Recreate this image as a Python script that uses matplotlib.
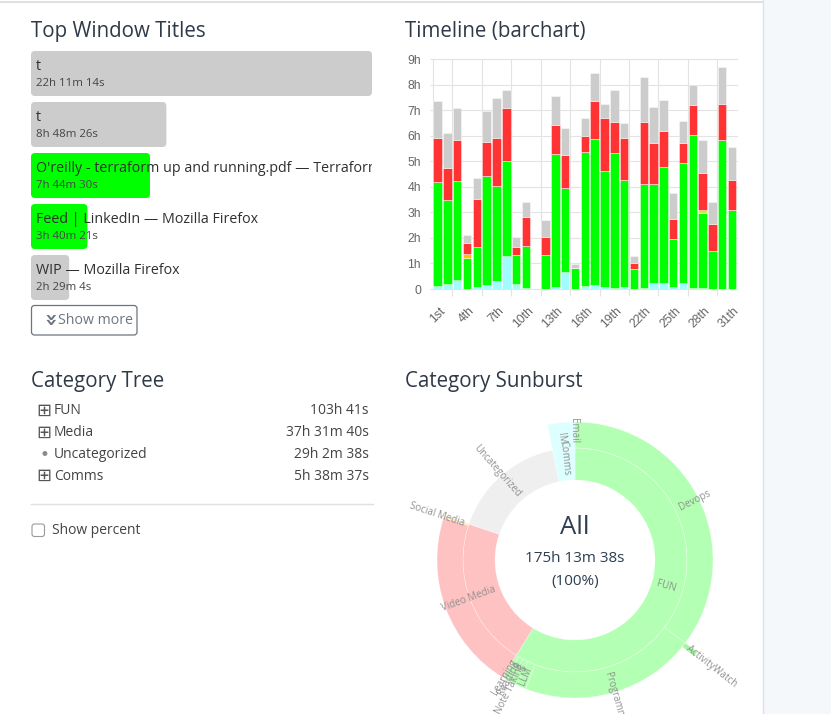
import matplotlib
matplotlib.use("Agg")
import matplotlib.pyplot as plt
import numpy as np
from matplotlib.patches import FancyBboxPatch, Rectangle
from matplotlib.transforms import ScaledTranslation

W, H, DPI = 831, 714, 100
plt.rcParams['font.family'] = ['Open Sans', 'DejaVu Sans']

# ---------------- data ----------------
window_titles = ["t", "t",
                 "O'reilly - terraform up and running.pdf — Terraform",
                 "Feed | LinkedIn — Mozilla Firefox",
                 "WIP — Mozilla Firefox"]
window_durations = ["22h 11m 14s", "8h 48m 26s", "7h 44m 30s", "3h 40m 21s", "2h 29m 4s"]
window_categories = ["Uncategorized", "Uncategorized", "FUN", "FUN", "Uncategorized"]

tree_names = ["FUN", "Media", "Uncategorized", "Comms"]
tree_durations = ["103h 41s", "37h 31m 40s", "29h 2m 38s", "5h 38m 37s"]
tree_has_children = [True, True, False, True]

day_labels = ["1st", "2nd", "3rd", "4th", "5th", "6th", "7th", "8th", "9th", "10th",
              "11th", "12th", "13th", "14th", "15th", "16th", "17th", "18th", "19th", "20th",
              "21th", "22th", "23th", "24th", "25th", "26th", "27th", "28th", "29th", "30th", "31th"]
# hours per day and category (stack order bottom -> top)
comms_h = [0.13, 0.20, 0.37, 0.00, 0.07, 0.17, 0.33, 1.28, 0.20, 0.05, 0.00, 0.00, 0.09, 0.68, 0.00, 0.12,
           0.16, 0.08, 0.03, 0.08, 0.00, 0.04, 0.24, 0.24, 0.09, 0.24, 0.03, 0.05, 0.00, 0.00, 0.00]
fun_h = [4.06, 3.30, 3.85, 1.22, 1.57, 4.26, 3.69, 3.74, 1.14, 1.63, 0.00, 1.35, 5.20, 3.28, 0.81, 5.25,
         5.70, 4.54, 5.30, 4.18, 0.79, 4.06, 3.86, 4.54, 1.85, 4.70, 6.00, 2.94, 1.48, 5.83, 3.08]
orange_h = [0, 0, 0, 0.16, 0, 0, 0, 0, 0, 0, 0, 0, 0, 0, 0, 0,
            0, 0, 0, 0, 0, 0, 0, 0, 0.03, 0, 0, 0, 0, 0, 0]
yellow_h = [0, 0, 0, 0, 0, 0, 0, 0, 0, 0, 0, 0, 0, 0, 0, 0,
            0, 0, 0, 0, 0, 0, 0, 0, 0, 0, 0, 0.11, 0, 0, 0]
media_h = [1.73, 1.22, 1.61, 0.43, 1.90, 1.33, 1.90, 2.05, 0.30, 1.14, 0.00, 0.68, 1.13, 1.28, 0.03, 0.62,
           1.50, 2.06, 1.19, 1.64, 0.22, 2.42, 1.60, 1.42, 0.78, 0.78, 1.18, 1.45, 1.07, 1.41, 1.20]
uncat_h = [1.42, 1.37, 1.24, 0.29, 0.81, 1.21, 1.57, 0.73, 0.39, 0.59, 0.00, 0.68, 1.14, 1.07, 0.12, 0.69,
           1.09, 0.56, 1.25, 0.59, 0.30, 1.77, 1.44, 1.19, 1.02, 0.86, 0.78, 1.28, 0.86, 1.46, 1.29]

# sunburst second / third level (hours)
sub_parents = ["FUN", "FUN", "FUN", "FUN", "FUN", "FUN", "Media", "Media", "Comms", "Comms"]
sub_names = ["Devops", "Programming", "LLM", "Note Taking", "Reading", "Learning",
             "Video Media", "Social Media", "IM", "Email"]
sub_hours = [61.80, 36.00, 1.95, 1.46, 1.12, 0.68, 37.13, 0.40, 4.91, 0.73]
sub3_parents = ["Programming"]
sub3_names = ["ActivityWatch"]
sub3_hours = [0.97]
center_label = "All"
center_total = "175h 13m 38s"
center_pct = "(100%)"


def to_hours(s):
    h = 0.0
    for part in s.split():
        v = float(part[:-1])
        h += {"h": v, "m": v / 60, "s": v / 3600}[part[-1]]
    return h


# ---------------- style ----------------
TITLE_C = "#2f3a48"
cat_bar_colors = {"FUN": "#00ff00", "Uncategorized": "#cccccc"}
sun_colors = {"FUN": "#b3ffb3", "Media": "#ffc2c2", "Uncategorized": "#efefef", "Comms": "#ddffff"}

fig = plt.figure(figsize=(W / DPI, H / DPI), dpi=DPI)
bg = fig.add_axes([0, 0, 1, 1])
bg.set_xlim(0, W)
bg.set_ylim(H, 0)
bg.axis("off")


def fax(x0, y0, x1, y1, **kw):
    return fig.add_axes([x0 / W, 1 - y1 / H, (x1 - x0) / W, (y1 - y0) / H], **kw)


# page chrome
bg.add_patch(Rectangle((763, 0), W - 763, H, color="#f5f8fb", zorder=0))
bg.plot([762.5, 762.5], [0, H], color="#dfe3e8", lw=1)
bg.plot([0, 762], [2, 2], color="#dddddd", lw=1.3)

for x, y, t in [(31, 37, "Top Window Titles"), (405, 37, "Timeline (barchart)"),
                (31, 387, "Category Tree"), (405, 387, "Category Sunburst")]:
    bg.text(x, y, t, fontsize=14.8, color=TITLE_C, va="baseline", ha="left")

# ---------------- Top window titles ----------------
wh = [to_hours(d) for d in window_durations]
wax = fax(31, 51, 372, 300)
bars = wax.barh(range(len(wh)), wh, height=0.882,
                color=[cat_bar_colors[c] for c in window_categories])
wax.set_xlim(0, wh[0])
wax.set_ylim(len(wh) - 1 + 0.441, -0.441)
wax.axis("off")
px_x = wh[0] / 341.0
px_y = 1 / 51.0
for r in bars:
    x, y, w, h = r.get_x(), r.get_y(), r.get_width(), r.get_height()
    fb = FancyBboxPatch((x, y), w, h, boxstyle=f"round,pad=0,rounding_size={4 * px_x}",
                        mutation_aspect=px_y / px_x, fc=r.get_facecolor(), ec="none")
    wax.add_patch(fb)
    r.set_visible(False)
for i, (t, d) in enumerate(zip(window_titles, window_durations)):
    wax.text(5 / 341, i - 0.13, t, transform=wax.get_yaxis_transform(), fontsize=10.3,
             color="#303030", va="center", ha="left", clip_on=True)
    wax.text(5 / 341, i + 0.19, d, transform=wax.get_yaxis_transform(), fontsize=8.2,
             color="#444444", va="center", ha="left", clip_on=True)

bg.add_patch(FancyBboxPatch((31.5, 305.5), 105.5, 29.5, boxstyle="round,pad=0,rounding_size=3",
                            fc="white", ec="#6c757d", lw=0.9))
bg.text(48.5, 320.5, "»", rotation=-90, fontsize=15, fontweight="bold", color="#6c757d",
        ha="center", va="center", family="DejaVu Sans")
bg.text(57.5, 320.5, "Show more", fontsize=10.2, color="#6c757d", ha="left", va="center")

# ---------------- Category tree ----------------
row_y = [411, 432.7, 454, 476]
for y, n, d, ch in zip(row_y, tree_names, tree_durations, tree_has_children):
    if ch:
        bg.text(44, y, "⊞", fontsize=13, color="#555555", ha="center", va="center",
                family="DejaVu Sans")
    else:
        bg.text(44, y + 0.5, "•", fontsize=12, color="#8a8a8a", ha="center", va="center",
                family="DejaVu Sans")
    bg.text(54, y, n, fontsize=10, color="#444444", ha="left", va="center")
    bg.text(369, y, d, fontsize=10, color="#444444", ha="right", va="center")
bg.plot([31, 373], [503.5, 503.5], color="#e0e0e0", lw=1)
bg.add_patch(FancyBboxPatch((32, 524), 12.5, 12.5, boxstyle="round,pad=0,rounding_size=2.5",
                            fc="white", ec="#9a9a9a", lw=0.8))
bg.text(52.5, 530, "Show percent", fontsize=10, color="#444444", ha="left", va="center")

# ---------------- Timeline bar chart ----------------
tax = fax(432.7, 59, 737, 289)
x = np.arange(len(day_labels))
bottom = np.zeros(len(x))
for vals, col in [(comms_h, "#9ffcff"), (fun_h, "#00ff00"), (orange_h, "#ffc400"),
                  (yellow_h, "#c8ec3c"), (media_h, "#ff3333"), (uncat_h, "#cccccc")]:
    v = np.array(vals)
    tax.bar(x, v, width=0.86, bottom=bottom, color=col, edgecolor=(1, 1, 1, 0.7),
            linewidth=0.4, zorder=3)
    bottom += v
tax.set_xlim(-0.5, len(x) - 0.5)
tax.set_ylim(0, 9)
tax.set_yticks(range(10))
tax.set_yticklabels(["0"] + [f"{h}h" for h in range(1, 10)])
tax.set_xticks(x[::3])
tax.set_xticklabels(day_labels[::3], rotation=45, ha="right", va="center",
                    rotation_mode="anchor")
tax.set_xticks(np.arange(1.5, len(x) - 1, 3), minor=True)
tax.tick_params(axis="y", length=2.5, width=0.8, color="#e3e3e3", pad=6,
                labelsize=8.7, labelcolor="#666666")
tax.tick_params(axis="x", which="major", length=0, pad=14.5, labelsize=8.7, labelcolor="#666666")
tax.tick_params(axis="x", which="minor", length=5, width=0.8, color="#e3e3e3")
for lab in tax.get_xticklabels() + tax.get_yticklabels():
    lab.set_fontfamily(["Liberation Sans", "DejaVu Sans"])
for lab in tax.get_xticklabels():
    lab.set_transform(lab.get_transform() + ScaledTranslation(5.5 / DPI, 0, fig.dpi_scale_trans))
tax.yaxis.grid(True, which="major", color="#e3e3e3", lw=0.8, zorder=0)
tax.xaxis.grid(True, which="minor", color="#e3e3e3", lw=0.8, zorder=0)
tax.xaxis.grid(False, which="major")
for gl in tax.get_ygridlines():
    gl.set_clip_on(False)
for s in ["top", "right", "bottom"]:
    tax.spines[s].set_visible(False)
tax.spines["left"].set_color("#e3e3e3")
tax.spines["left"].set_linewidth(0.8)
tax.set_axisbelow(True)

# ---------------- Sunburst ----------------
R = 170
CX, CY = 575, 560
sax = fig.add_axes([(CX - R) / W, (H - CY - R) / H, 2 * R / W, 2 * R / H], projection="polar")
sax.set_theta_zero_location("N")
sax.set_theta_direction(-1)
sax.set_ylim(0, R)
sax.axis("off")

ring = {1: (80, 112), 2: (112, 138), 3: (138, 153)}
label_anchor = {1: 85, 2: 117, 3: 143}
label_anchor_override = {"Video Media": 85}
total = sum(to_hours(d) for d in tree_durations)
deg_per_h = 360.0 / total

node_start = {}


def wedge(start_deg, hours, depth, color, name, show_label=True):
    w = hours * deg_per_h
    r0, r1 = ring[depth]
    sax.bar(np.deg2rad(start_deg + w / 2), r1 - r0, width=np.deg2rad(w), bottom=r0,
            color=color, edgecolor=(1, 1, 1, 0.55), linewidth=0.35, align="center")
    if show_label:
        mid = start_deg + w / 2
        ra = label_anchor_override.get(name, label_anchor[depth])
        a = 90 - mid
        if mid % 360 < 180:
            rot, ha = a, "left"
        else:
            rot, ha = a + 180, "right"
        sax.text(np.deg2rad(mid), ra, name, rotation=rot, rotation_mode="anchor",
                 ha=ha, va="center", fontsize=7, color="#8c8c8c", alpha=0.95)
    return w


start = 0.0
for n, d in zip(tree_names, tree_durations):
    h = to_hours(d)
    node_start[n] = start
    w = wedge(start, h, 1, sun_colors[n], n, show_label=(n != "Media"))
    start += w

offsets = {}
for p, n, h in zip(sub_parents, sub_names, sub_hours):
    s = node_start[p] + offsets.get(p, 0.0)
    node_start[n] = s
    col = "#ffe8b0" if n == "Social Media" else sun_colors[p]
    offsets[p] = offsets.get(p, 0.0) + wedge(s, h, 2, col, n)

for p, n, h in zip(sub3_parents, sub3_names, sub3_hours):
    s = node_start[p] + offsets.get(p + "/3", 0.0)
    offsets[p + "/3"] = offsets.get(p + "/3", 0.0) + wedge(s, h, 3, "#a8f5a8", n)

bg.text(CX, 528, center_label, fontsize=18.5, color="#2c3e50", ha="center", va="center")
bg.text(CX, 558, center_total, fontsize=11, color="#2c3e50", ha="center", va="center")
bg.text(CX, 582, center_pct, fontsize=11, color="#2c3e50", ha="center", va="center")

fig.savefig("out.png", dpi=DPI)
